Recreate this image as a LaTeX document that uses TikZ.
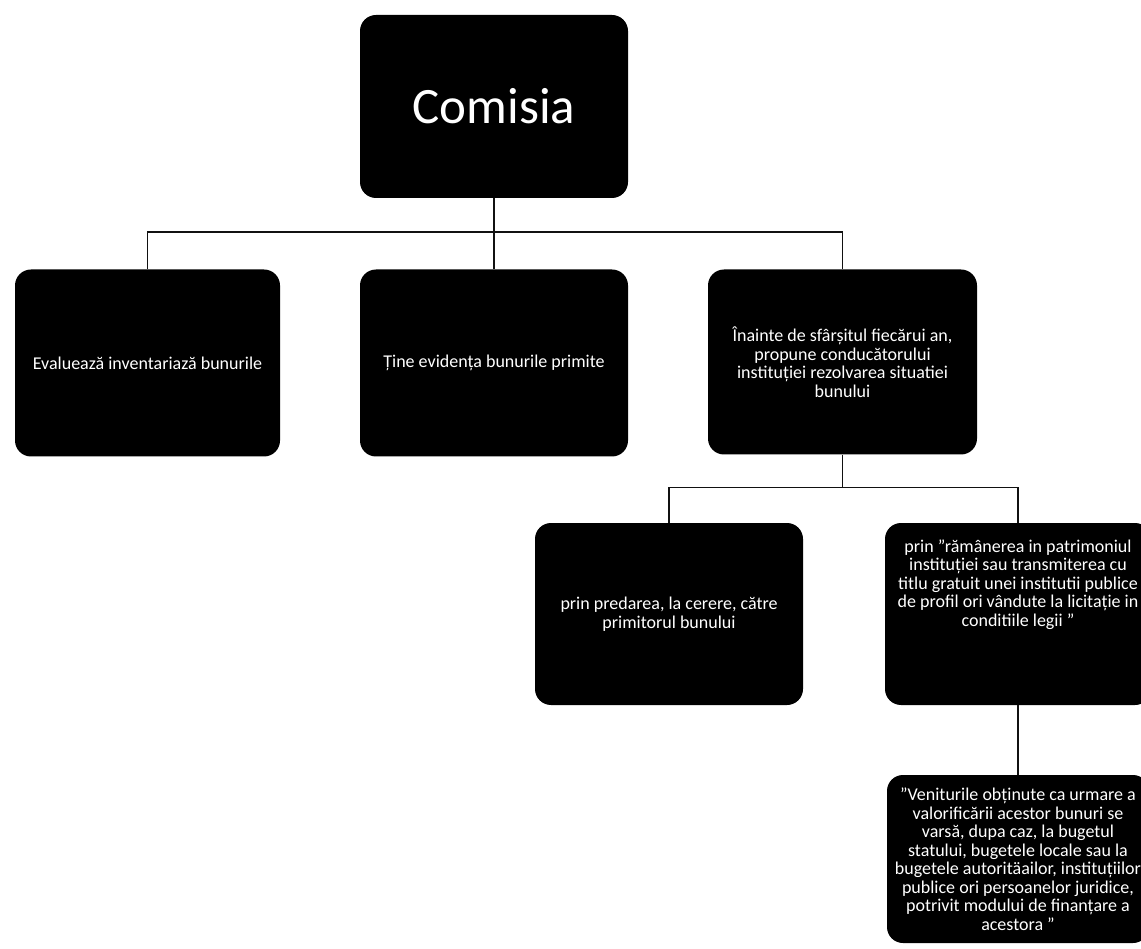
\documentclass[tikz,border=0pt]{standalone}
\usepackage{fontspec}
\setmainfont{Carlito}
\usepackage{tikz}
\usetikzlibrary{calc}
\definecolor{BoxBlack}{HTML}{000000}
\definecolor{LineBlack}{HTML}{111111}
\tikzset{
  cutie/.style={fill=BoxBlack, text=white, rounded corners=16pt, align=center,
    inner sep=4pt, font=\fontsize{18}{18.5}\selectfont},
  legatura/.style={draw=LineBlack, line width=1.5pt}
}

\begin{document}
\begin{tikzpicture}[x=1pt,y=-1pt]
   \useasboundingbox (0,0) rectangle (1141,949);

   \node[cutie, minimum width=268pt, minimum height=183pt,
         font=\fontsize{51}{56}\selectfont] (comisia) at (494,106.5) {Comisia};

   \node[cutie, minimum width=265pt, minimum height=187pt] (evaluare) at (147.5,363)
     {Evaluează inventariază bunurile};
   \node[cutie, minimum width=268pt, minimum height=187pt] (evidenta) at (494,363)
     {Ține evidența bunurile primite};
   \node[cutie, minimum width=269pt, minimum height=185pt] (propune) at (842.5,362)
     {Înainte de sfârșitul fiecărui an,\\ propune conducătorului\\
      instituției rezolvarea situatiei\\ bunului};

   \node[cutie, minimum width=268pt, minimum height=182pt] (predare) at (669,614)
     {prin predarea, la cerere, către\\ primitorul bunului};
   \node[cutie, minimum width=266pt, minimum height=182pt, text depth=62pt] (ramanere) at (1018,614)
     {prin "rămânerea in patrimoniul\\ instituției sau transmiterea cu\\
      titlu gratuit unei institutii publice\\ de profil ori vândute la licitație in\\
      conditiile legii "};

   \node[cutie, minimum width=262pt, minimum height=168pt] (venituri) at (1018,859)
     {"Veniturile obținute ca urmare a\\ valorificării acestor bunuri se\\
      varsă, dupa caz, la bugetul\\ statului, bugetele locale sau la\\
      bugetele autoritäailor, instituțiilor\\ publice ori persoanelor juridice,\\
      potrivit modului de finanțare a\\ acestora "};

   % connectors
   \coordinate (busA) at ($(comisia.south)+(0,34)$);
   \coordinate (busB) at ($(propune.south)+(0,33)$);
   \draw[legatura] (comisia.south) -- (busA);
   \foreach \n in {evaluare,evidenta,propune}
     \draw[legatura] (busA) -| (\n.north);
   \draw[legatura] (propune.south) -- (busB);
   \foreach \n in {predare,ramanere}
     \draw[legatura] (busB) -| (\n.north);
   \draw[legatura] (ramanere.south) -- (venituri.north);
\end{tikzpicture}
\end{document}
